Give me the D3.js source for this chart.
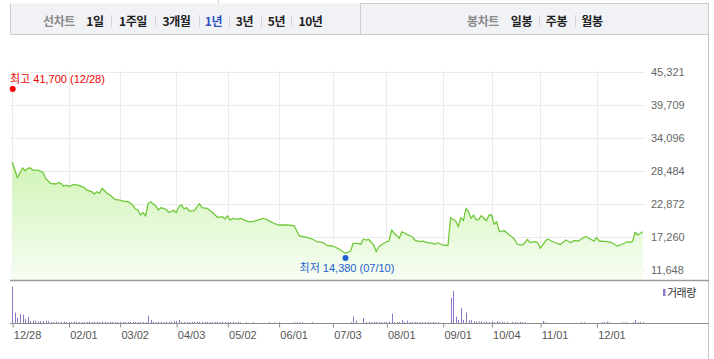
<!DOCTYPE html>
<html><head><meta charset="utf-8">
<script src="https://cdn.jsdelivr.net/npm/d3@7"></script>
<style>body{margin:0;background:#fff}svg{display:block}</style></head>
<body><svg id="c" width="714" height="359"></svg>
<script>
// ---- data ----
const dayIdx = [0,2,4,5,6,7,8,10,12,13,15,17,18,19,20,21,22,23,24,26,28,29,31,32,33,34,35,37,38,40,42,44,45,47,48,49,50,51,52,53,54,56,57,58,60,61,62,63,64,65,66,67,68,69,71,73,74,76,78,80,82,83,84,85,86,88,89,90,92,94,95,98,100,102,104,107,110,112,115,117,119,121,123,125,127,129,130,132,133,135,136,137,138,139,141,142,143,145,146,147,148,149,151,152,154,156,157,159,160,162,164,165,166,168,170,171,173,174,175,176,177,178,179,180,181,182,183,185,186,187,188,189,190,192,194,196,197,199,200,201,202,204,205,206,208,209,211,213,214,216,218,219,221,223,224,225,227,228,229,232,234,236,238,240,241,242,243,244,245,246];
const closes = [29950,27300,29000,28500,28900,29000,28600,28600,28250,27200,26350,26250,26470,26350,25900,26080,25800,25960,26200,26030,25690,25230,24940,24550,24940,24670,25520,24670,24430,23650,23530,23250,23310,22690,22010,21840,20990,21380,20820,22970,23190,22510,21840,22220,21950,21450,21550,21790,21380,22400,22740,22010,22230,21670,21720,22910,22230,22130,21450,20600,20700,20310,20870,20090,20430,20260,20430,20260,19850,19850,20020,20430,20020,19580,19290,19290,19170,17420,17200,16910,16450,16350,15770,15720,15330,14760,14480,14870,16180,16180,16010,16910,16740,16860,15890,14760,15600,16180,16450,16570,18440,17880,17030,18150,17710,17300,16740,16450,16570,16280,16180,16010,16280,15890,15810,20530,19970,19000,20530,20020,22130,21550,20430,20990,20140,20260,20870,20020,20990,20990,19410,19850,18150,18320,17590,16860,16060,15890,16280,16860,16280,16450,16280,15330,16570,16910,16450,16060,16010,16740,16280,16620,16570,17200,17300,17030,16570,17130,16570,16450,16280,15720,16060,16450,16350,16500,18050,17590,17850,18150];
const volumes = [
 3670,1070,530,930,870,430,630,230,270,270,
 170,230,230,270,230,130,130,170,100,130,
 170,130,130,100,170,130,130,130,130,130,
 170,130,130,130,130,170,130,130,130,130,
 130,130,130,130,130,130,130,130,130,130,
 130,130,130,770,330,130,130,130,130,130,
 130,130,170,200,230,330,130,130,130,130,
 130,130,170,130,130,130,130,130,130,130,
 130,130,130,130,130,130,130,100,130,100,
 0,100,0,0,100,0,0,0,0,0,
 100,0,100,0,100,0,0,0,0,0,
 100,100,100,100,0,0,0,100,0,0,
 0,0,0,0,0,0,0,0,0,0,
 0,0,100,670,270,0,0,530,130,130,
 130,130,130,130,130,130,130,170,970,130,
 130,130,330,130,270,130,130,130,100,130,
 100,130,130,100,130,100,100,0,0,0,
 0,2570,3230,670,330,1570,330,1070,300,300,
 200,170,170,200,130,170,130,200,130,230,
 130,130,100,130,0,130,130,100,130,100,
 100,0,0,0,0,0,0,230,100,0,
 0,0,0,0,0,0,0,0,0,0,
 0,0,100,100,0,0,0,0,0,0,
 100,130,170,100,0,0,0,0,100,100,
 100,0,100,330,100,130,100];
const tickIdx = [0,22,42,64,84,104,125,146,168,187,206,228];
const tickLabels = ["12/28","02/01","03/02","04/03","05/02","06/01","07/03","08/01","09/01","10/04","11/01","12/01"];
const yTicks = [11648,17260,22872,28484,34096,39709,45321];
const hiValue = 41700, hiIdx = 0, hiText = "최고 41,700 (12/28)";
const loValue = 14380, loIdx = 130, loText = "최저 14,380 (07/10)";
const periodTabs = ["1일","1주일","3개월","1년","3년","5년","10년"];
const candleTabs = ["일봉","주봉","월봉"];
const activeTab = "1년";

// ---- layout ----
const svg = d3.select("#c");
const fontNum = "'Liberation Sans', Arial, 'Noto Sans CJK KR', sans-serif";
const fontKr = "'Noto Sans CJK KR', 'Liberation Sans', sans-serif";

const x = d3.scaleLinear().domain([0,246]).range([12.3,642.8]);
const y = d3.scaleLinear().domain([11648,45321]).range([270,71.7]);
const yv = d3.scaleLinear().domain([0,3670]).range([323.3,286.6]);

// top tab boxes
svg.append("rect").attr("x",10.5).attr("y",3.5).attr("width",349.5).attr("height",31)
  .attr("fill","#f1f2f6").attr("stroke","none");
svg.append("path").attr("d","M10.5,3.5V34.5H360").attr("fill","none").attr("stroke","#cccccc");
svg.append("line").attr("x1",218.5).attr("x2",218.5).attr("y1",0).attr("y2",3.5).attr("stroke","#cccccc");
svg.append("rect").attr("x",360.5).attr("y",3.5).attr("width",348).attr("height",31)
  .attr("fill","#f1f2f6").attr("stroke","#cccccc");

function tabRow(label, labelX, items, centers, seps) {
  svg.append("text").attr("x",labelX).attr("y",25.5).attr("font-family",fontKr)
    .attr("font-size",12).attr("font-weight","bold").attr("fill","#8a8a8a")
    .attr("letter-spacing",-0.4).text(label);
  items.forEach((t,i)=>{
    svg.append("text").attr("x",centers[i]).attr("y",25.5).attr("text-anchor","middle")
      .attr("font-family",fontKr).attr("font-size",12).attr("font-weight","bold")
      .attr("letter-spacing",-0.4)
      .attr("fill", t===activeTab ? "#2d55c0" : "#222").text(t);
  });
  seps.forEach(s=>{
    svg.append("line").attr("x1",s+0.5).attr("x2",s+0.5).attr("y1",15).attr("y2",27).attr("stroke","#d4d4d8");
  });
}
tabRow("선차트",43,periodTabs,[95,133,176.5,213.5,244.5,276.5,310.5],[111,155,199,229,261,291]);
tabRow("봉차트",467,candleTabs,[521.5,556.5,592],[539,575]);

// right border
svg.append("line").attr("x1",708.5).attr("x2",708.5).attr("y1",34).attr("y2",359).attr("stroke","#c4c4c4");

// grid
const g = svg.append("g");
g.selectAll("line.h").data(yTicks).join("line")
  .attr("x1",10).attr("x2",645).attr("y1",d=>Math.round(y(d))+0.5).attr("y2",d=>Math.round(y(d))+0.5)
  .attr("stroke","#ebebeb");
g.selectAll("line.v").data(tickIdx).join("line")
  .attr("x1",d=>Math.round(x(d))+0.5).attr("x2",d=>Math.round(x(d))+0.5)
  .attr("y1",71.5).attr("y2",280).attr("stroke","#ebebeb");

// area gradient
const defs = svg.append("defs");
const grad = defs.append("linearGradient").attr("id","ag").attr("gradientUnits","userSpaceOnUse")
  .attr("x1",0).attr("x2",0).attr("y1",y(d3.max(closes))).attr("y2",280);
grad.append("stop").attr("offset","0").attr("stop-color","#d0f4b6");
grad.append("stop").attr("offset","1").attr("stop-color","#f7fdf3");

const pts = dayIdx.map((d,i)=>({i:d,v:closes[i]}));
svg.append("path").datum(pts)
  .attr("d", d3.area().x(d=>x(d.i)).y0(280).y1(d=>y(d.v)))
  .attr("fill","url(#ag)");
svg.append("path").datum(pts)
  .attr("d", d3.line().x(d=>x(d.i)).y(d=>y(d.v)))
  .attr("fill","none").attr("stroke","#70c93a").attr("stroke-width",1.3).attr("stroke-linejoin","round");

// right y labels
svg.selectAll("text.yl").data(yTicks).join("text")
  .attr("x",651).attr("y",d=>y(d)+4).attr("font-family",fontNum).attr("font-size",11)
  .attr("fill","#666").text(d=>d3.format(",")(d));

// hi / lo markers
svg.append("circle").attr("cx",x(hiIdx)+0.4).attr("cy",y(hiValue)-4).attr("r",3).attr("fill","#ff0000");
svg.append("text").attr("x",10).attr("y",82.5).attr("font-family",fontNum).attr("font-size",11)
  .attr("fill","#ee0000").text(hiText);
svg.append("circle").attr("cx",x(loIdx)).attr("cy",y(loValue)+4).attr("r",3).attr("fill","#1f63d3");
svg.append("text").attr("x",x(loIdx)+1.5).attr("y",272).attr("text-anchor","middle").attr("font-family",fontNum)
  .attr("font-size",11).attr("fill","#1d5fcf").text(loText);

// volume panel
svg.append("line").attr("x1",10).attr("x2",709).attr("y1",280.5).attr("y2",280.5).attr("stroke","#9a9a9a").attr("stroke-width",1.3);
svg.selectAll("rect.vb").data(volumes.map((v,i)=>({i,v})).filter(d=>d.v>0)).join("rect")
  .attr("x",d=>Math.round(x(d.i))).attr("width",1)
  .attr("y",d=>yv(d.v)).attr("height",d=>yv(0)-yv(d.v)).attr("fill","#8f76c9");
svg.append("line").attr("x1",10).attr("x2",709).attr("y1",323.5).attr("y2",323.5).attr("stroke","#8c8c8c");
const xa = d3.axisBottom(x).tickValues(tickIdx).tickFormat((d,i)=>tickLabels[i]).tickSize(4).tickSizeOuter(0);
const ax = svg.append("g").attr("transform","translate(0,323.5)").call(xa);
ax.select(".domain").remove();
ax.selectAll(".tick line").attr("stroke","#8c8c8c").attr("transform","translate(0.3,0)");
ax.selectAll(".tick text").attr("text-anchor","start").attr("x",1).attr("y",7.5)
  .attr("font-family",fontNum).attr("font-size",11).attr("fill","#555");

// legend
svg.append("rect").attr("x",663).attr("y",289).attr("width",2.5).attr("height",7).attr("fill","#8f76c9");
svg.append("text").attr("x",667).attr("y",296.5).attr("font-family",fontKr).attr("font-size",11)
  .attr("letter-spacing",-0.5).attr("fill","#333").text("거래량");
</script></body></html>
